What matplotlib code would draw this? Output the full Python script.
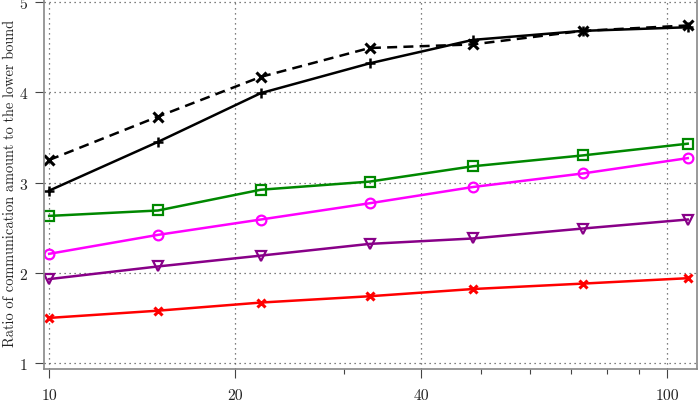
import matplotlib
matplotlib.use("Agg")
import matplotlib.pyplot as plt
from matplotlib.ticker import FixedLocator, NullFormatter

plt.rcParams['font.family'] = 'cmr10'
plt.rcParams['axes.formatter.use_mathtext'] = True
plt.rcParams['mathtext.fontset'] = 'cm'

# x positions shared by every series
n_values = [10, 15, 22, 33, 48.5, 73, 108]

dashed_black = [3.25, 3.73, 4.17, 4.49, 4.53, 4.68, 4.74]
solid_black = [2.91, 3.45, 3.99, 4.32, 4.58, 4.68, 4.72]
green_sq = [2.63, 2.69, 2.92, 3.01, 3.18, 3.30, 3.43]
magenta_o = [2.21, 2.42, 2.59, 2.77, 2.95, 3.10, 3.27]
purple_v = [1.93, 2.07, 2.19, 2.32, 2.38, 2.49, 2.59]
red_x = [1.50, 1.58, 1.67, 1.74, 1.82, 1.88, 1.94]

xticks = [10, 20, 40, 100]
xtick_labels = ['10', '20', '40', '100']
yticks = [1, 2, 3, 4, 5]

fig = plt.figure(figsize=(6.99, 4.02), dpi=100)
ax = fig.add_axes([44 / 699, 32 / 402, 653 / 699, 370 / 402])

ax.plot(n_values, red_x, color='#ff0000', lw=1.8, marker='x', ms=6, mew=2.2)
ax.plot(n_values, purple_v, color='#880088', lw=1.8, marker='v', ms=7,
        mfc='none', mew=1.6)
ax.plot(n_values, magenta_o, color='#ff00ff', lw=1.8, marker='o', ms=7,
        mfc='none', mew=1.6)
ax.plot(n_values, green_sq, color='#008800', lw=1.8, marker='s', ms=7,
        mfc='none', mew=1.6)
ax.plot(n_values, solid_black, color='black', lw=1.8, marker='+', ms=7, mew=1.8)
ax.plot(n_values, dashed_black, color='black', lw=1.8, ls=(0, (4, 2.5)),
        marker='x', ms=6.5, mew=2.2)

ax.set_xscale('log')
ax.set_xlim(9.81, 111.8)
ax.set_ylim(0.934, 5.033)

ax.xaxis.set_major_locator(FixedLocator(xticks))
ax.set_xticklabels(xtick_labels)
ax.xaxis.set_minor_locator(FixedLocator([30, 50, 60, 70, 80, 90]))
ax.xaxis.set_minor_formatter(NullFormatter())
ax.set_yticks(yticks)

ax.grid(True, which='major', ls=(0, (1, 3)), color='#555555', lw=0.9)
ax.tick_params(axis='both', which='major', direction='out', length=6.3,
               width=0.8, color='#444444', labelsize=11.3, labelcolor='#222222')
ax.tick_params(axis='x', which='major', pad=7.5)
ax.tick_params(axis='y', which='major', pad=5.2)
ax.tick_params(axis='x', which='minor', direction='out', length=3.5,
               width=0.8, color='#444444')
for s in ax.spines.values():
    s.set_color('#888888')
    s.set_linewidth(1.2)

ax.set_ylabel('Ratio of communication amount to the lower bound',
              fontsize=10.4, color='#222222')
ax.yaxis.set_label_coords(-27 / 653, 1 - 183.5 / 370)

fig.savefig('out.png', dpi=100)
